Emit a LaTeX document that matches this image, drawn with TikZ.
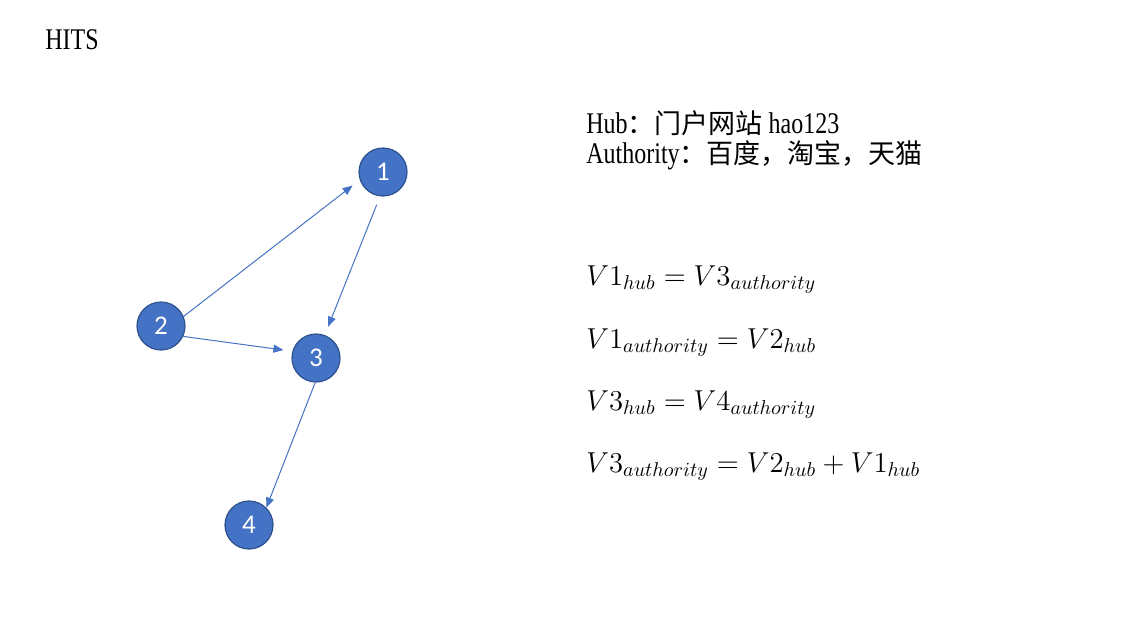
\documentclass[tikz,border=0pt]{standalone}
\usepackage{fontspec}
\setmainfont{Liberation Serif}
\newfontfamily\mingfont[FakeStretch=0.8]{Liberation Serif}
\newfontfamily\cjk{Noto Sans CJK SC}
\newfontfamily\numfont{Carlito}
\usetikzlibrary{arrows.meta}
\definecolor{vtxblue}{HTML}{4472C4}
\definecolor{vtxedge}{HTML}{2F528F}

\begin{document}
\begin{tikzpicture}[
  x=0.5pt, y=-0.5pt,
  vtx/.style={circle, draw=vtxedge, fill=vtxblue, line width=0.6pt, minimum size=24pt, inner sep=0pt, text=white, font=\numfont\fontsize{13.5}{13.5}\selectfont},
  arrow/.style={-{Triangle[length=5pt, width=4pt]}, draw=vtxblue, line width=0.5pt},
  info/.style={anchor=base west, inner sep=0pt, font=\mingfont\fontsize{15}{15}\selectfont},
  eq/.style={anchor=base west, inner sep=0pt, font=\fontsize{14.2}{16}\selectfont},
]
\useasboundingbox (0,0) rectangle (1130,633);

% ══ Title ══
\node[anchor=base west, inner sep=0pt, font=\mingfont\fontsize{15}{15}\selectfont] (title) at (45,49) {HITS};

% ══ Graph ══
\node[vtx] (v1) at (383,172) {1};
\node[vtx] (v2) at (161,326) {2};
\node[vtx] (v3) at (316,358) {3};
\node[vtx] (v4) at (249,525) {4};

\draw[arrow, shorten >=4.5pt] (v2.23) -- (v1.199);
\draw[arrow, shorten <=4.5pt, shorten >=4.5pt] (v1.263) -- (v3.69);
\draw[arrow, shorten >=4.5pt] (v2.-25) -- (v3.164);
\draw[arrow] (v3.268) -- (v4.45);

% ══ Hub / Authority ══
\node[info] (hub) at (586,133) {Hub{\cjk\fontsize{13.5}{15}\selectfont ：门户网站} hao123};
\node[info] (auth) at (586,163) {Authority{\cjk\fontsize{13.5}{15}\selectfont ：百度，淘宝，天猫}};

% ══ Equations ══
\node[eq] (eqa) at (586,285) {$V1_{hub}=V3_{authority}$};
\node[eq] (eqb) at (586,348) {$V1_{authority}=V2_{hub}$};
\node[eq] (eqc) at (586,410) {$V3_{hub}=V4_{authority}$};
\node[eq] (eqd) at (586,472) {$V3_{authority}=V2_{hub}+V1_{hub}$};

\end{tikzpicture}
\end{document}
